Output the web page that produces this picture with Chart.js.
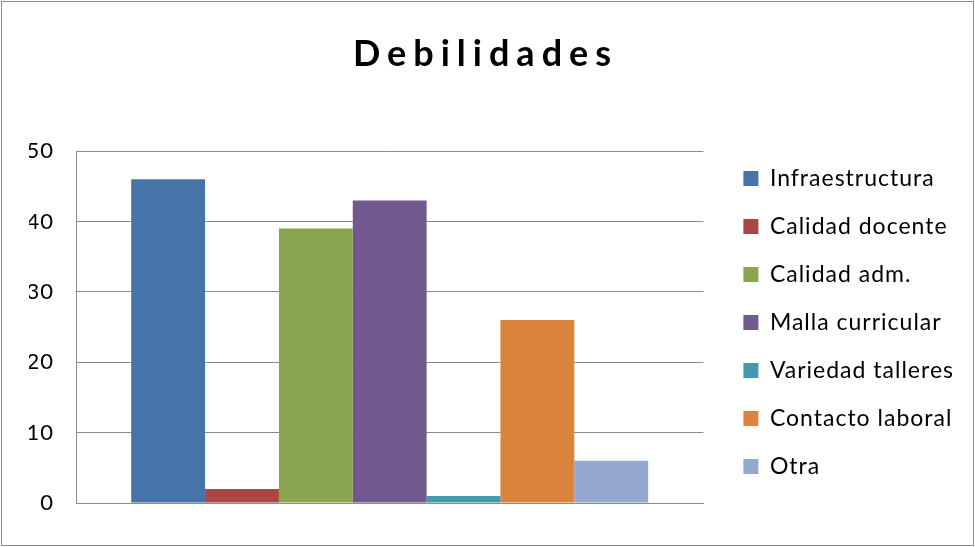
<!DOCTYPE html>
<html>
<head>
<meta charset="utf-8">
<script src="https://cdn.jsdelivr.net/npm/chart.js@4/dist/chart.umd.min.js"></script>
<style>
    html, body { margin: 0; padding: 0; background: #fff; }
    #wrap { width: 975px; height: 547px; }
</style>
</head>
<body>
<div id="wrap"><canvas id="chart" width="975" height="547"></canvas></div>
<script>
const title = 'Debilidades'
const categories = ['']
const seriesNames = ['Infraestructura', 'Calidad docente', 'Calidad adm.', 'Malla curricular', 'Variedad talleres', 'Contacto laboral', 'Otra']
const seriesValues = [46, 2, 39, 43, 1, 26, 6]
const seriesColors = ['#4674a8', '#aa4643', '#8aa54f', '#71588f', '#4399ae', '#db843d', '#94a9cf']
const yTicks = [0, 10, 20, 30, 40, 50]

const gridColor = '#8c8c8c'
const fontFamily = 'Lato, "Open Sans", sans-serif'

// Excel-style spaced text: a little tracking everywhere, wider on the title,
// and the title nudged left so it sits over the middle of the frame
const spacing = {
    id: 'spacing',
    afterInit(chart) {
        const draw = chart.titleBlock.draw
        chart.titleBlock.draw = function() {
            const ctx = this.ctx
            ctx.save()
            ctx.letterSpacing = '7px'
            ctx.translate(-11, 0)
            draw.apply(this, arguments)
            ctx.restore()
        }
    },
    beforeLayout(chart) { chart.ctx.letterSpacing = '1px' },
    beforeDraw(chart) { chart.ctx.letterSpacing = '1px' },
    afterDraw(chart) {
        const ctx = chart.ctx
        ctx.save()
        ctx.strokeStyle = '#8c8c8c'
        ctx.lineWidth = 1
        ctx.strokeRect(1.5, 1.5, chart.width - 3, chart.height - 3)
        ctx.restore()
    }
}

const datasets = seriesNames.map((name, i) => ({
    label: name,
    data: [seriesValues[i]],
    backgroundColor: seriesColors[i],
    borderWidth: 0,
    yAxisID: 'y'
}))

new Chart(document.getElementById('chart'), {
    type: 'bar',
    data: { labels: categories, datasets },
    plugins: [spacing],
    options: {
        responsive: false,
        animation: false,
        events: [],
        categoryPercentage: 0.824,
        barPercentage: 1,
        layout: { padding: { top: 33, left: 29, right: 11, bottom: 44 } },
        plugins: {
            title: {
                display: true,
                text: title,
                color: '#000',
                font: { family: fontFamily, size: 36, weight: 'bold', lineHeight: 1.2 },
                padding: { top: 0, bottom: 75 }
            },
            legend: {
                position: 'right',
                align: 'end',
                maxWidth: 253,
                labels: {
                    color: '#000',
                    font: { family: fontFamily, size: 23 },
                    boxWidth: 15,
                    boxHeight: 15,
                    padding: 25
                }
            },
            tooltip: { enabled: false }
        },
        scales: {
            x: {
                grid: { display: false },
                ticks: { display: false },
                border: { display: true, color: gridColor, width: 1 },
                afterFit(scale) { scale.height = 0 }
            },
            y: {
                min: 0,
                max: 50,
                afterBuildTicks(scale) { scale.ticks = yTicks.map(v => ({ value: v })) },
                grid: { color: gridColor, lineWidth: 1, drawTicks: false },
                border: { display: true, color: gridColor, width: 1 },
                ticks: {
                    color: '#000',
                    font: { family: fontFamily, size: 22 },
                    padding: 22
                },
                afterFit(scale) { scale.width = 47 }
            },
            // empty right axis keeps a gap between the plot and the legend
            gap: {
                position: 'right',
                display: true,
                grid: { display: false },
                ticks: { display: false },
                border: { display: false },
                afterFit(scale) { scale.width = 15 }
            }
        }
    }
})
</script>
</body>
</html>
